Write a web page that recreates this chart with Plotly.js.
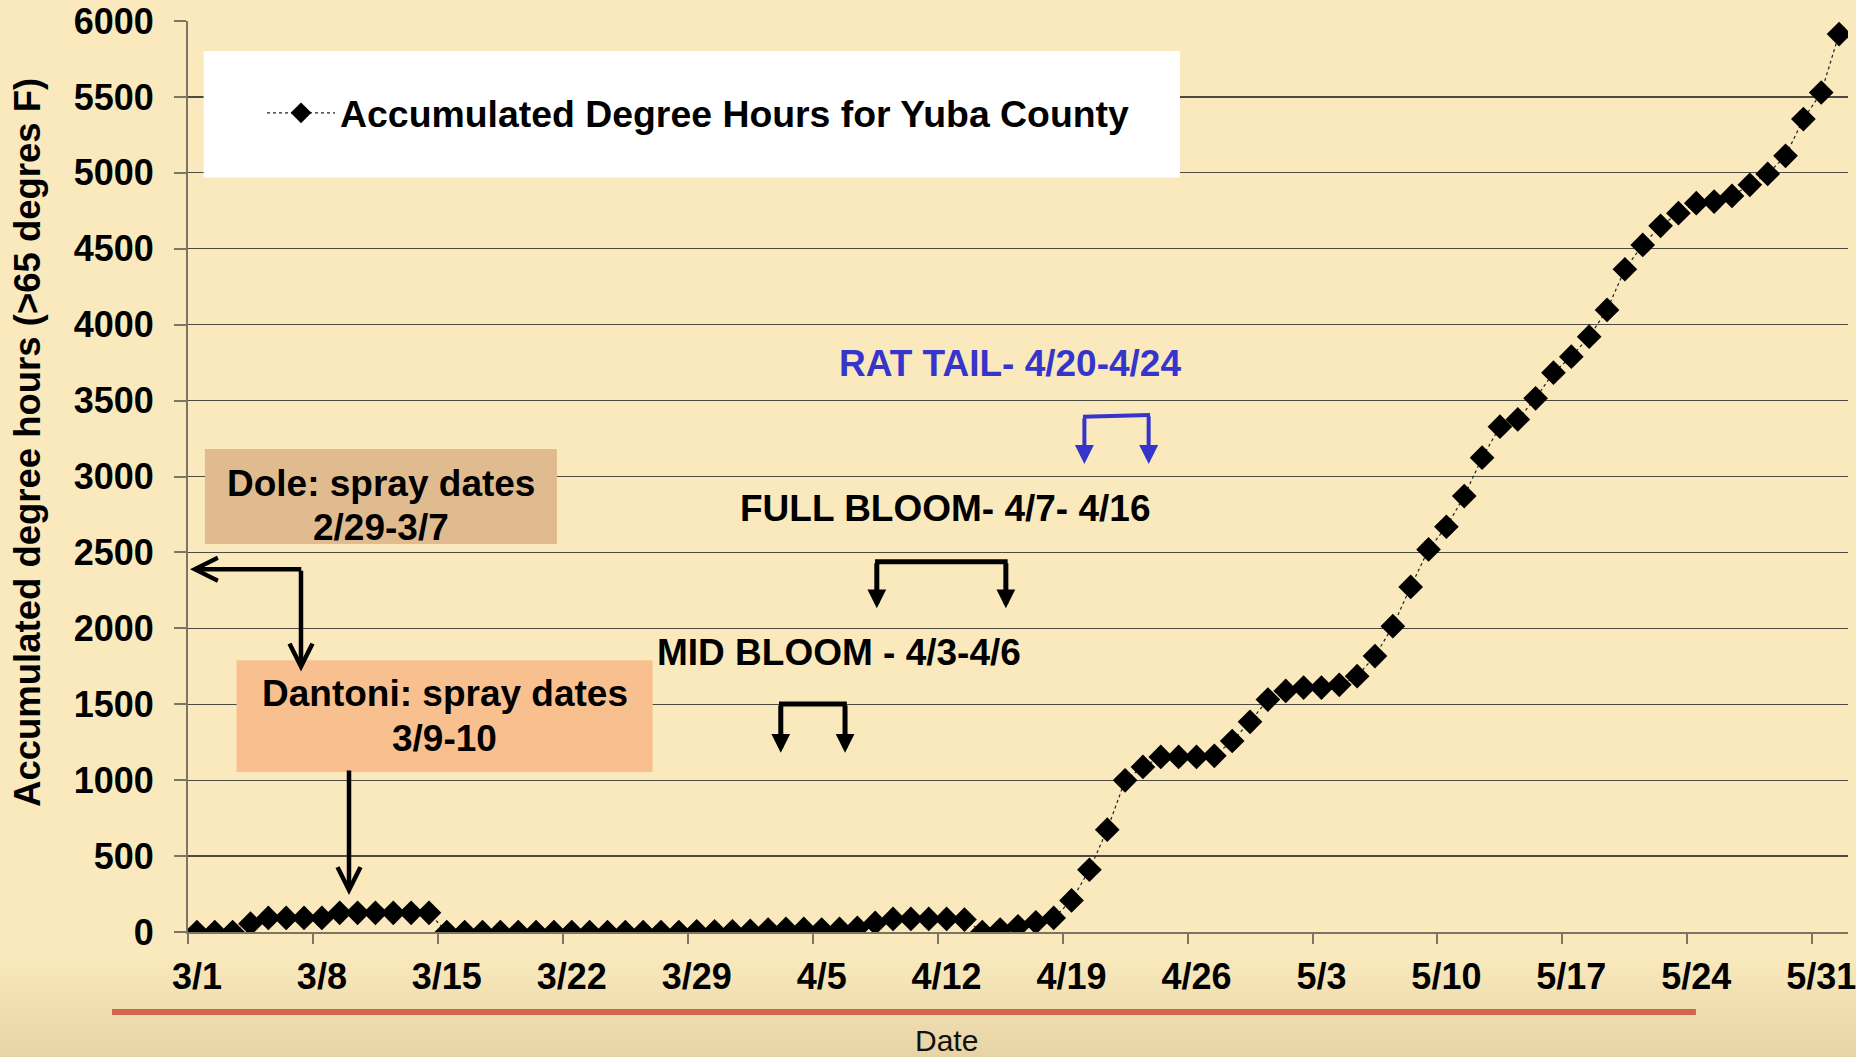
<!DOCTYPE html>
<html>
<head>
<meta charset="utf-8">
<script src="https://cdn.plot.ly/plotly-3.0.1.min.js"></script>
<style>
  html, body { margin: 0; padding: 0; }
  body {
    width: 1856px; height: 1057px; overflow: hidden;
    background: linear-gradient(180deg, #FAE9BC 0px, #FAE9BC 955px, #E6D4A6 1057px);
  }
  #chart { width: 1856px; height: 1057px; }
</style>
</head>
<body>
<div id="chart"></div>
<script>
// ---- data ----
const dates = [
  "3/1","3/2","3/3","3/4","3/5","3/6","3/7","3/8","3/9","3/10",
  "3/11","3/12","3/13","3/14","3/15","3/16","3/17","3/18","3/19","3/20",
  "3/21","3/22","3/23","3/24","3/25","3/26","3/27","3/28","3/29","3/30",
  "3/31","4/1","4/2","4/3","4/4","4/5","4/6","4/7","4/8","4/9",
  "4/10","4/11","4/12","4/13","4/14","4/15","4/16","4/17","4/18","4/19",
  "4/20","4/21","4/22","4/23","4/24","4/25","4/26","4/27","4/28","4/29",
  "4/30","5/1","5/2","5/3","5/4","5/5","5/6","5/7","5/8","5/9",
  "5/10","5/11","5/12","5/13","5/14","5/15","5/16","5/17","5/18","5/19",
  "5/20","5/21","5/22","5/23","5/24","5/25","5/26","5/27","5/28","5/29",
  "5/30","5/31","6/1"
];
const degreeHours = [
  0, 0, 0, 55, 93, 93, 93, 93, 126, 126,
  126, 126, 126, 126, 0, 0, 0, 0, 0, 0,
  0, 0, 0, 0, 0, 0, 0, 0, 5, 5,
  5, 8, 16, 20, 20, 16, 20, 27, 60, 86,
  86, 86, 86, 82, 0, 16, 38, 64, 93, 208,
  410, 674, 999, 1087, 1153, 1153, 1153, 1160, 1258, 1384,
  1531, 1588, 1610, 1610, 1628, 1685, 1817, 2014, 2273, 2520,
  2669, 2871, 3124, 3328, 3376, 3515, 3684, 3789, 3921, 4097,
  4365, 4525, 4651, 4734, 4800, 4811, 4848, 4921, 4993, 5112,
  5354, 5529, 5914
];
const seriesName = "Accumulated Degree Hours for Yuba County";
const yTitle = "Accumulated degree hours (>65 degres F)";
const xTitle = "Date";
const notes = {
  dole: ["Dole: spray dates", "2/29-3/7"],
  dantoni: ["Dantoni: spray dates", "3/9-10"],
  ratTail: "RAT TAIL- 4/20-4/24",
  fullBloom: "FULL BLOOM- 4/7- 4/16",
  midBloom: "MID BLOOM - 4/3-4/6"
};

// ---- styling ----
const FONT = "Liberation Sans, Arial, Helvetica, sans-serif";
const AXIS_COL = "#7d7462";
const GRID_COL = "#4d4a40";
const BLUE = "#3535CC";

const trace = {
  type: "scatter",
  mode: "lines+markers",
  x: dates,
  y: degreeHours,
  name: seriesName,
  line: { color: "#222222", width: 1.2, dash: "dot" },
  marker: { symbol: "diamond", size: 19, color: "#000000" },
  hoverinfo: "skip"
};

function txt(x, y, text, opts) {
  return Object.assign({
    x: x, y: y, xref: "x", yref: "y", text: text, showarrow: false,
    xanchor: "center", yanchor: "middle",
    font: { family: FONT, size: 37, weight: "bold", color: "#000" }
  }, opts || {});
}
function arrow(x, y, ax, ay, color, width, head, size) {
  return {
    x: x, y: y, xref: "x", yref: "y", ax: ax, ay: ay, axref: "x", ayref: "y",
    text: "", showarrow: true, arrowhead: head, arrowsize: size,
    arrowwidth: width, arrowcolor: color, standoff: 0, startstandoff: 0
  };
}
function bar(x0, x1, y0, y1, color, width) {
  return { type: "line", xref: "x", yref: "y", x0: x0, x1: x1, y0: y0, y1: y1,
           line: { color: color, width: width }, layer: "above" };
}

const shapes = [
  // legend white box
  { type: "rect", xref: "paper", yref: "paper", x0: 0.0094, x1: 0.5976, y0: 0.8281, y1: 0.9671,
    fillcolor: "#FFFFFF", line: { width: 0 }, layer: "above" },
  // Dole box
  { type: "rect", xref: "x", yref: "y", x0: 0.45, x1: 20.17, y0: 2555, y1: 3181,
    fillcolor: "#E0BB8F", line: { width: 0 }, layer: "above" },
  // Dantoni box
  { type: "rect", xref: "x", yref: "y", x0: 2.22, x1: 25.53, y0: 1054, y1: 1790,
    fillcolor: "#F9C08F", line: { width: 0 }, layer: "above" },
  // bracket bars
  bar(32.61, 36.41, 1502, 1502, "#000", 5),
  bar(37.99, 45.42, 2439, 2439, "#000", 5),
  bar(49.64, 53.40, 3394, 3405, BLUE, 4),
  // decorative red rule under the axis
  { type: "line", xref: "paper", yref: "paper", x0: -0.0458, x1: 0.9084, y0: -0.0878, y1: -0.0878,
    line: { color: "#D4644A", width: 6 } }
];

const annotations = [
  txt(10.31, 2957, notes.dole[0]),
  txt(10.31, 2667, notes.dole[1]),
  txt(13.89, 1568, notes.dantoni[0]),
  txt(13.89, 1275, notes.dantoni[1]),
  txt(45.55, 3741, notes.ratTail, { font: { family: FONT, size: 37, weight: "bold", color: BLUE } }),
  txt(41.96, 2786, notes.fullBloom),
  txt(35.97, 1838, notes.midBloom),
  // Dole elbow arrows
  arrow(-0.39, 2389, 5.93, 2389, "#000", 4.5, 5, 1.0),
  arrow(5.83, 1716, 5.83, 2389, "#000", 4.5, 5, 1.0),
  // Dantoni arrow
  arrow(8.52, 244, 8.52, 1074, "#000", 4.5, 5, 1.0),
  // Mid bloom bracket
  arrow(32.71, 1181, 32.71, 1502, "#000", 5, 2, 0.75),
  arrow(36.31, 1181, 36.31, 1502, "#000", 5, 2, 0.75),
  // Full bloom bracket
  arrow(38.09, 2132, 38.09, 2439, "#000", 5, 2, 0.75),
  arrow(45.32, 2132, 45.32, 2439, "#000", 5, 2, 0.75),
  // Rat tail bracket
  arrow(49.72, 3082, 49.72, 3394, BLUE, 4, 2, 0.95),
  arrow(53.32, 3082, 53.32, 3405, BLUE, 4, 2, 0.95),
  // axis titles
  { xref: "paper", yref: "paper", x: -0.0964, y: 0.5379, text: yTitle, textangle: -90,
    showarrow: false, xanchor: "center", yanchor: "middle",
    font: { family: FONT, size: 36.5, weight: "bold", color: "#000" } },
  { xref: "paper", yref: "paper", x: 0.4572, y: -0.1196, text: xTitle,
    showarrow: false, xanchor: "center", yanchor: "middle",
    font: { family: FONT, size: 30, color: "#111" } }
];

const layout = {
  width: 1856, height: 1057,
  margin: { l: 188, r: 8, t: 21, b: 125, pad: 0 },
  paper_bgcolor: "rgba(0,0,0,0)",
  plot_bgcolor: "rgba(0,0,0,0)",
  font: { family: FONT, color: "#000" },
  showlegend: true,
  legend: {
    x: 0.0446, xanchor: "left", y: 0.899, yanchor: "middle",
    bgcolor: "rgba(0,0,0,0)", borderwidth: 0, itemwidth: 68,
    font: { family: FONT, size: 37.4, weight: "bold", color: "#000" }
  },
  xaxis: {
    type: "category", categoryorder: "array", categoryarray: dates,
    range: [-0.5, 92.5], tickmode: "linear", tick0: 0, dtick: 7, tickangle: 0,
    tickson: "boundaries", ticks: "outside", ticklen: 10, tickwidth: 2, tickcolor: AXIS_COL,
    showline: true, linecolor: AXIS_COL, linewidth: 2,
    showgrid: false, zeroline: false, automargin: false,
    tickfont: { family: FONT, size: 36, weight: "bold", color: "#000" },
    ticklabelstandoff: 12, fixedrange: true
  },
  yaxis: {
    range: [0, 6000], tickmode: "linear", tick0: 0, dtick: 500,
    ticks: "outside", ticklen: 12, tickwidth: 2, tickcolor: AXIS_COL,
    showline: true, linecolor: AXIS_COL, linewidth: 2,
    showgrid: true, gridcolor: GRID_COL, gridwidth: 1.3, zeroline: false, automargin: false,
    tickfont: { family: FONT, size: 36, weight: "bold", color: "#000" },
    ticklabelstandoff: 13, fixedrange: true
  },
  shapes: shapes,
  annotations: annotations,
  hovermode: false
};

Plotly.newPlot("chart", [trace], layout, { displayModeBar: false, staticPlot: true });
</script>
</body>
</html>
